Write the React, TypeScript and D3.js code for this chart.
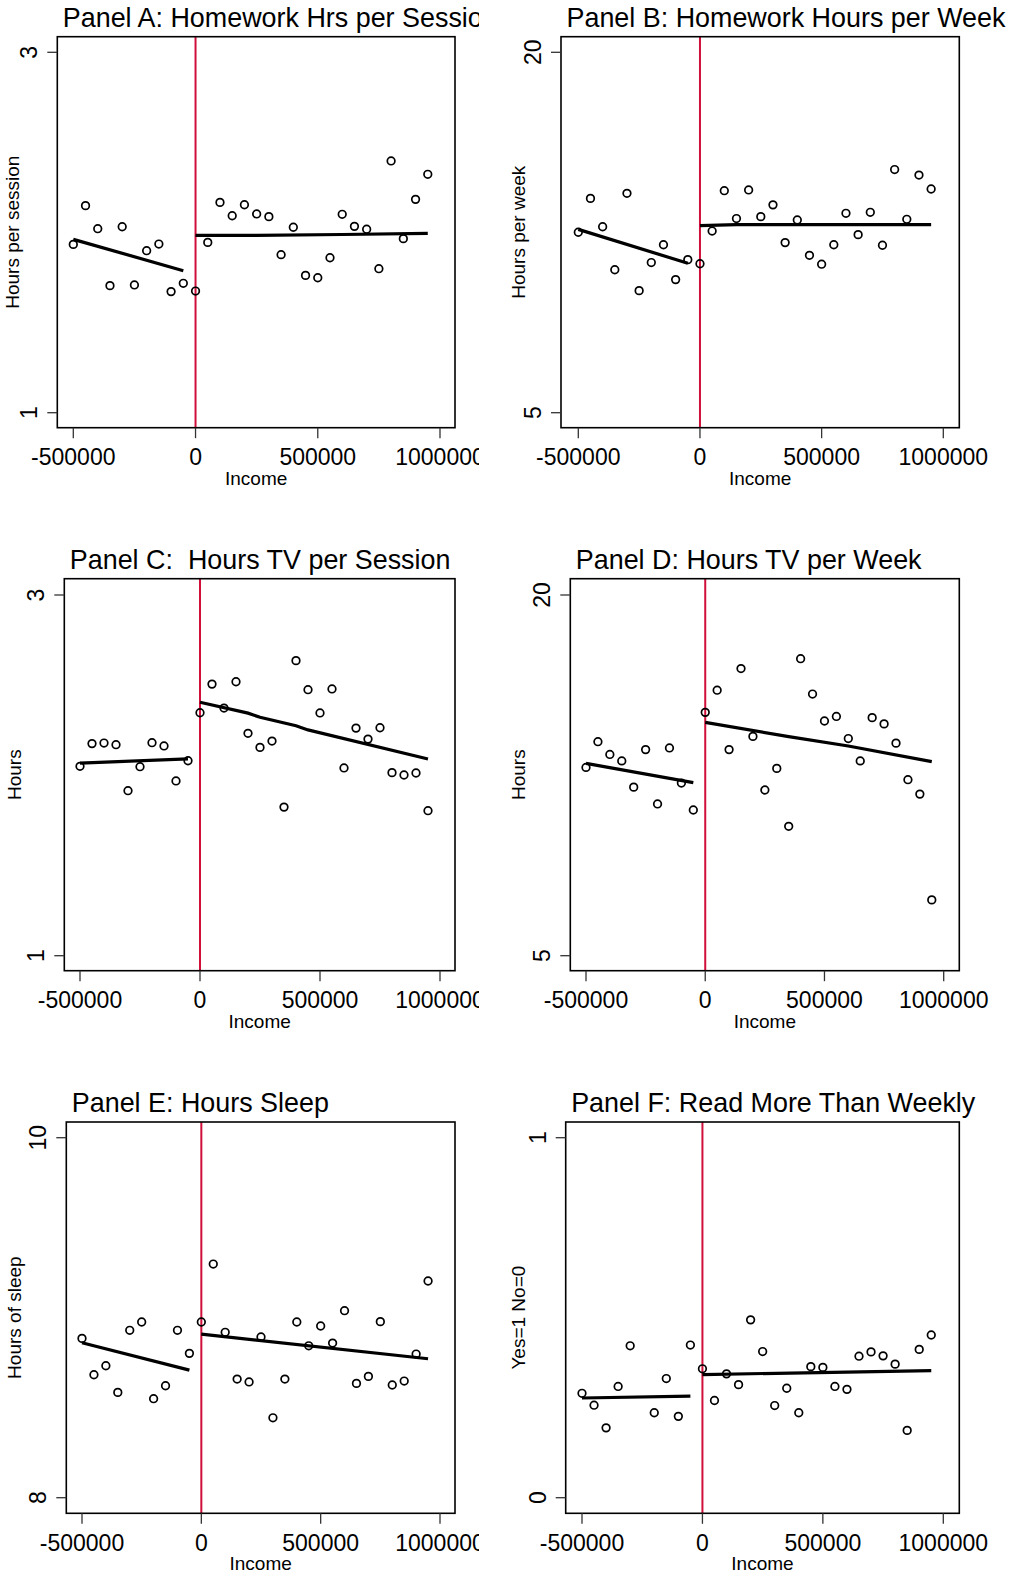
import React from "react";
import * as d3 from "d3";

// ---------- data ----------
const incomeBins = [
  -500000, -450000, -400000, -350000, -300000, -250000, -200000, -150000, -100000, -50000,
  0, 50000, 100000, 150000, 200000, 250000, 300000, 350000, 400000, 450000,
  500000, 550000, 600000, 650000, 700000, 750000, 800000, 850000, 900000, 950000,
];
const xTicks = [-500000, 0, 500000, 1000000];

const hwSession = [1.934, 2.149, 2.021, 1.705, 2.032, 1.709, 1.899, 1.936, 1.672, 1.718,
  1.675, 1.945, 2.167, 2.093, 2.154, 2.103, 2.088, 1.877, 2.029, 1.762,
  1.749, 1.86, 2.101, 2.034, 2.018, 1.799, 2.397, 1.966, 2.184, 2.323];
const hwWeek = [12.51, 13.92, 12.74, 10.95, 14.13, 10.08, 11.25, 11.99, 10.54, 11.37,
  11.2, 12.56, 14.24, 13.08, 14.27, 13.16, 13.65, 12.08, 13.02, 11.55,
  11.18, 11.99, 13.3, 12.41, 13.34, 11.97, 15.12, 13.05, 14.89, 14.31];
const tvSession = [2.05, 2.176, 2.179, 2.17, 1.915, 2.048, 2.181, 2.163, 1.969, 2.081,
  2.347, 2.506, 2.373, 2.519, 2.233, 2.155, 2.19, 1.824, 2.636, 2.475,
  2.346, 2.479, 2.041, 2.262, 2.201, 2.264, 2.015, 2.002, 2.013, 1.804];
const tvWeek = [12.83, 13.9, 13.37, 13.1, 12.01, 13.57, 11.31, 13.64, 12.18, 11.06,
  15.12, 16.04, 13.57, 16.94, 14.12, 11.89, 12.79, 10.38, 17.35, 15.88,
  14.76, 14.95, 14.03, 13.1, 14.9, 14.64, 13.84, 12.32, 11.72, 7.32];
const sleepHours = [8.885, 8.683, 8.733, 8.585, 8.93, 8.976, 8.55, 8.622, 8.93, 8.802,
  8.976, 9.298, 8.919, 8.659, 8.643, 8.893, 8.444, 8.659, 8.976, 8.844,
  8.954, 8.859, 9.039, 8.635, 8.674, 8.978, 8.626, 8.648, 8.798, 9.204];
const readWeekly = [0.29, 0.257, 0.194, 0.309, 0.422, null, 0.236, 0.331, 0.226, 0.424,
  0.358, 0.27, 0.344, 0.314, 0.494, 0.406, 0.256, 0.304, 0.236, 0.364,
  0.362, 0.309, 0.301, 0.393, 0.405, 0.394, 0.371, 0.187, 0.412, 0.452];

const fitA = { left: [[-500000, 1.962], [-50000, 1.788]], right: [[0, 1.984], [250000, 1.984], [600000, 1.989], [950000, 1.995]] };
const fitB = { left: [[-500000, 12.63], [-50000, 11.22]], right: [[0, 12.79], [150000, 12.83], [950000, 12.83]] };
const fitC = { left: [[-500000, 2.068], [-50000, 2.091]], right: [[0, 2.405], [200000, 2.345], [250000, 2.322], [400000, 2.275], [450000, 2.252], [950000, 2.091]] };
const fitD = { left: [[-500000, 13.0], [-50000, 12.2]], right: [[0, 14.7], [350000, 14.11], [600000, 13.72], [950000, 13.07]] };
const fitE = { left: [[-500000, 8.861], [-50000, 8.709]], right: [[0, 8.909], [950000, 8.772]] };
const fitF = { left: [[-500000, 0.277], [-50000, 0.282]], right: [[0, 0.342], [950000, 0.353]] };

const titles = [
  "Panel A: Homework Hrs per Session",
  "Panel B: Homework Hours per Week",
  "Panel C:  Hours TV per Session",
  "Panel D: Hours TV per Week",
  "Panel E: Hours Sleep",
  "Panel F: Read More Than Weekly",
];
const yLabels = ["Hours per session", "Hours per week", "Hours", "Hours", "Hours of sleep", "Yes=1 No=0"];
const yTickSets = [[1, 3], [5, 20], [1, 3], [5, 20], [8, 10], [0, 1]];
const seriesList = [hwSession, hwWeek, tvSession, tvWeek, sleepHours, readWeekly];
const fitList = [fitA, fitB, fitC, fitD, fitE, fitF];

// ---------- layout (pixels) ----------
const layouts = [
  { bx0: 57.3, bx1: 455, by0: 36.7, by1: 427.7, xr: [73.3, 440], yr: [412.7, 52.3], ylabX: 19.3, clip: [0, 479] },
  { bx0: 561, bx1: 959.3, by0: 36.7, by1: 427.7, xr: [578.3, 943.3], yr: [412.7, 52.3], ylabX: 525, clip: [480, 1010] },
  { bx0: 64.3, bx1: 455, by0: 578.7, by1: 970.7, xr: [80, 440], yr: [955.7, 595], ylabX: 20.7, clip: [0, 479] },
  { bx0: 570.3, bx1: 959.3, by0: 578.7, by1: 970.7, xr: [586, 943.7], yr: [955.7, 595], ylabX: 525, clip: [480, 1010] },
  { bx0: 66.3, bx1: 455, by0: 1122, by1: 1513.3, xr: [82, 440], yr: [1497.7, 1137.7], ylabX: 20.7, clip: [0, 479] },
  { bx0: 565.7, bx1: 959.3, by0: 1122, by1: 1513.3, xr: [582, 943.3], yr: [1497.7, 1137.7], ylabX: 525, clip: [480, 1010] },
];

const FONT = "'Liberation Sans', Arial, Helvetica, sans-serif";
const RED = "#d0103a";

function Panel({ i }: { i: number }) {
  const L = layouts[i];
  const yt = yTickSets[i];
  const x = d3.scaleLinear().domain([xTicks[0], xTicks[3]]).range(L.xr);
  const y = d3.scaleLinear().domain([yt[1], yt[0]]).range([L.yr[1], L.yr[0]]);
  const line = d3.line<number[]>().x((d) => x(d[0])).y((d) => y(d[1]));
  const fit = fitList[i];
  const vals = seriesList[i];
  const cx = (L.bx0 + L.bx1) / 2;
  const cy = (L.by0 + L.by1) / 2;
  const clipId = `clip${i}`;
  return (
    <g>
      <defs>
        <clipPath id={clipId}>
          <rect x={L.clip[0]} y={0} width={L.clip[1] - L.clip[0]} height={1577} />
        </clipPath>
      </defs>
      <g clipPath={`url(#${clipId})`}>
        <text
          x={L.bx0 + 5.5}
          y={L.by0 - 10}
          fontSize={26.9}
          fontFamily={FONT}
          fill="#000"
          style={{ whiteSpace: "pre" }}
          xmlSpace="preserve"
        >
          {titles[i]}
        </text>
        {/* red cutoff line */}
        <line x1={x(0)} x2={x(0)} y1={L.by0} y2={L.by1} stroke={RED} strokeWidth={2} />
        {/* fitted lines */}
        <path d={line(fit.left as number[][]) || ""} fill="none" stroke="#000" strokeWidth={3.2} />
        <path d={line(fit.right as number[][]) || ""} fill="none" stroke="#000" strokeWidth={3.2} />
        {/* points */}
        {incomeBins.map((inc, k) =>
          vals[k] == null ? null : (
            <circle key={k} cx={x(inc)} cy={y(vals[k] as number)} r={3.8} fill="none" stroke="#000" strokeWidth={1.7} />
          )
        )}
        {/* box */}
        <rect x={L.bx0} y={L.by0} width={L.bx1 - L.bx0} height={L.by1 - L.by0} fill="none" stroke="#000" strokeWidth={1.6} />
        {/* x ticks */}
        {xTicks.map((t) => (
          <g key={t}>
            <line x1={x(t)} x2={x(t)} y1={L.by1} y2={L.by1 + 10.5} stroke="#333" strokeWidth={1.3} />
            <text x={x(t)} y={L.by1 + 37.3} fontSize={23} fontFamily={FONT} textAnchor="middle" fill="#000">
              {String(t)}
            </text>
          </g>
        ))}
        {/* y ticks */}
        {yt.map((t) => (
          <g key={t}>
            <line x1={L.bx0 - 10} x2={L.bx0} y1={y(t)} y2={y(t)} stroke="#333" strokeWidth={1.3} />
            <text
              transform={`translate(${L.bx0 - 20},${y(t)}) rotate(-90)`}
              fontSize={23}
              fontFamily={FONT}
              textAnchor="middle"
              fill="#000"
            >
              {String(t)}
            </text>
          </g>
        ))}
        {/* axis labels */}
        <text x={cx} y={L.by1 + 57} fontSize={19} fontFamily={FONT} textAnchor="middle" fill="#000">
          Income
        </text>
        <text
          transform={`translate(${L.ylabX},${cy}) rotate(-90)`}
          fontSize={19}
          fontFamily={FONT}
          textAnchor="middle"
          fill="#000"
        >
          {yLabels[i]}
        </text>
      </g>
    </g>
  );
}

export default function App() {
  return (
    <svg
      width={1010}
      height={1577}
      viewBox="0 0 1010 1577"
      style={{ position: "absolute", left: 0, top: 0, background: "#fff" }}
    >
      <rect x={0} y={0} width={1010} height={1577} fill="#fff" />
      {[0, 1, 2, 3, 4, 5].map((i) => (
        <Panel key={i} i={i} />
      ))}
    </svg>
  );
}
